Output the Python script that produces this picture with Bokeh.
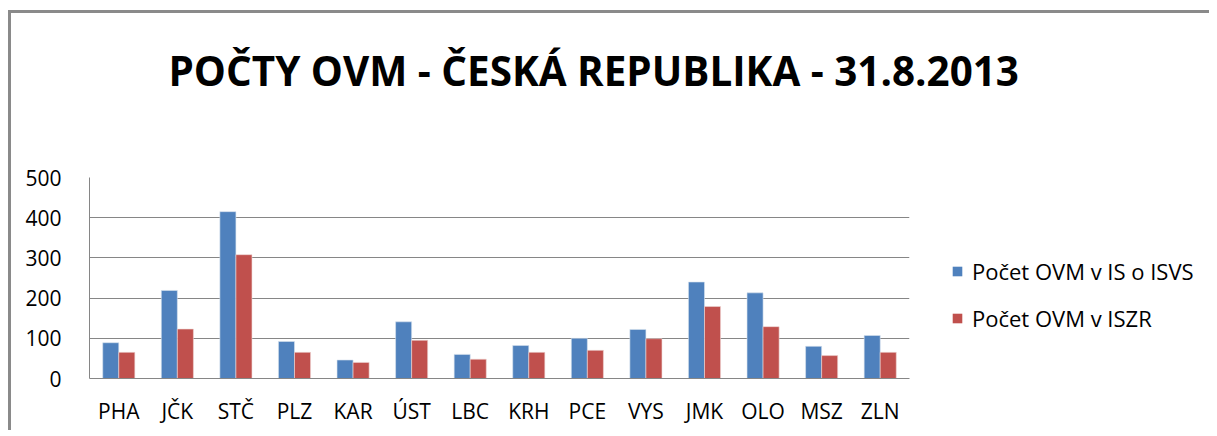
from bokeh.plotting import figure
from bokeh.models import FactorRange, Range1d, Legend, LegendItem, FixedTicker, ColumnDataSource, Label
from bokeh.layouts import column, row
from bokeh.transform import dodge
from bokeh.embed import file_html
from bokeh.resources import INLINE

regions = ["PHA", "JČK", "STČ", "PLZ", "KAR", "ÚST", "LBC", "KRH", "PCE", "VYS", "JMK", "OLO", "MSZ", "ZLN"]
isvs = [89, 219, 415, 92, 46, 141, 60, 82, 100, 122, 240, 213, 80, 107]
iszr = [65, 123, 308, 65, 40, 95, 48, 65, 70, 99, 179, 129, 57, 65]
series_names = ["Počet OVM v IS o ISVS", "Počet OVM v ISZR"]
title_text = "POČTY OVM - ČESKÁ REPUBLIKA - 31.8.2013"
y_ticks = [0, 100, 200, 300, 400, 500]

BLUE = "#4F81BD"
RED = "#C0504D"
FONT = "Open Sans"

# ---- title strip ----
top = figure(width=1198, height=120, output_backend="svg", toolbar_location=None,
             x_range=Range1d(0, 1), y_range=Range1d(0, 1),
             min_border=0, min_border_left=0, min_border_right=0, min_border_top=0, min_border_bottom=0)
top.axis.visible = False
top.grid.visible = False
top.outline_line_color = None
top.title = None
top.add_layout(Label(x=157, y=63, x_units="screen", y_units="screen", text=title_text,
                     text_font=FONT, text_font_style="bold", text_font_size="40.4px",
                     text_align="left", text_baseline="alphabetic", text_color="#000000"))

# ---- bar chart ----
src = ColumnDataSource(dict(r=regions, a=isvs, b=iszr))
p = figure(x_range=FactorRange(*regions, range_padding=0), y_range=Range1d(0, 500),
           width=899, height=297, output_backend="svg", toolbar_location=None,
           min_border_left=78, min_border_right=1, min_border_top=44, min_border_bottom=52)
p.x_range.range_padding = 0
p.title = None

ra = p.vbar(x=dodge("r", -0.137, range=p.x_range), top="a", width=0.274, source=src,
            fill_color=BLUE, line_color="#d8e2ef", line_width=0.6)
rb = p.vbar(x=dodge("r", 0.137, range=p.x_range), top="b", width=0.274, source=src,
            fill_color=RED, line_color="#efd6d5", line_width=0.6)

p.outline_line_color = None
p.xgrid.grid_line_color = None
p.ygrid.grid_line_color = "#868686"
p.ygrid.grid_line_width = 1

p.yaxis.ticker = FixedTicker(ticks=y_ticks)
for ax in (p.xaxis, p.yaxis):
    ax.axis_line_color = "#868686"
    ax.axis_line_width = 1
    ax.major_tick_line_color = None
    ax.minor_tick_line_color = None
    ax.major_label_text_font = FONT
    ax.major_label_text_font_size = "21px"
    ax.major_label_text_color = "#000000"
p.xaxis.major_label_standoff = 12
p.yaxis.major_label_standoff = 22

# ---- legend panel ----
q = figure(width=299, height=297, output_backend="svg", toolbar_location=None,
           x_range=Range1d(0, 1), y_range=Range1d(0, 1),
           min_border=0, min_border_left=0, min_border_right=0, min_border_top=0, min_border_bottom=0)
q.axis.visible = False
q.grid.visible = False
q.outline_line_color = None
q.title = None
# legend swatches only (zero-width placeholder glyphs)
la = q.vbar(x=[0], top=[0], width=0, fill_color=BLUE, line_color=None)
lb = q.vbar(x=[0], top=[0], width=0, fill_color=RED, line_color=None)
legend = Legend(items=[LegendItem(label=series_names[0], renderers=[la]),
                       LegendItem(label=series_names[1], renderers=[lb])],
                location=(41, 45), orientation="vertical",
                glyph_width=12, glyph_height=12, label_standoff=9,
                label_height=20, spacing=17, padding=0, margin=0,
                border_line_color=None, background_fill_alpha=0,
                label_text_font=FONT, label_text_font_size="22px", label_text_color="#000000")
q.add_layout(legend)

page = column(top, row(p, q, spacing=0), spacing=0,
              styles={"border-top": "3px solid #8a8a8a", "border-left": "3px solid #8a8a8a",
                      "margin-top": "10px", "margin-left": "8px"})

open("out.html", "w").write(file_html(page, INLINE))
